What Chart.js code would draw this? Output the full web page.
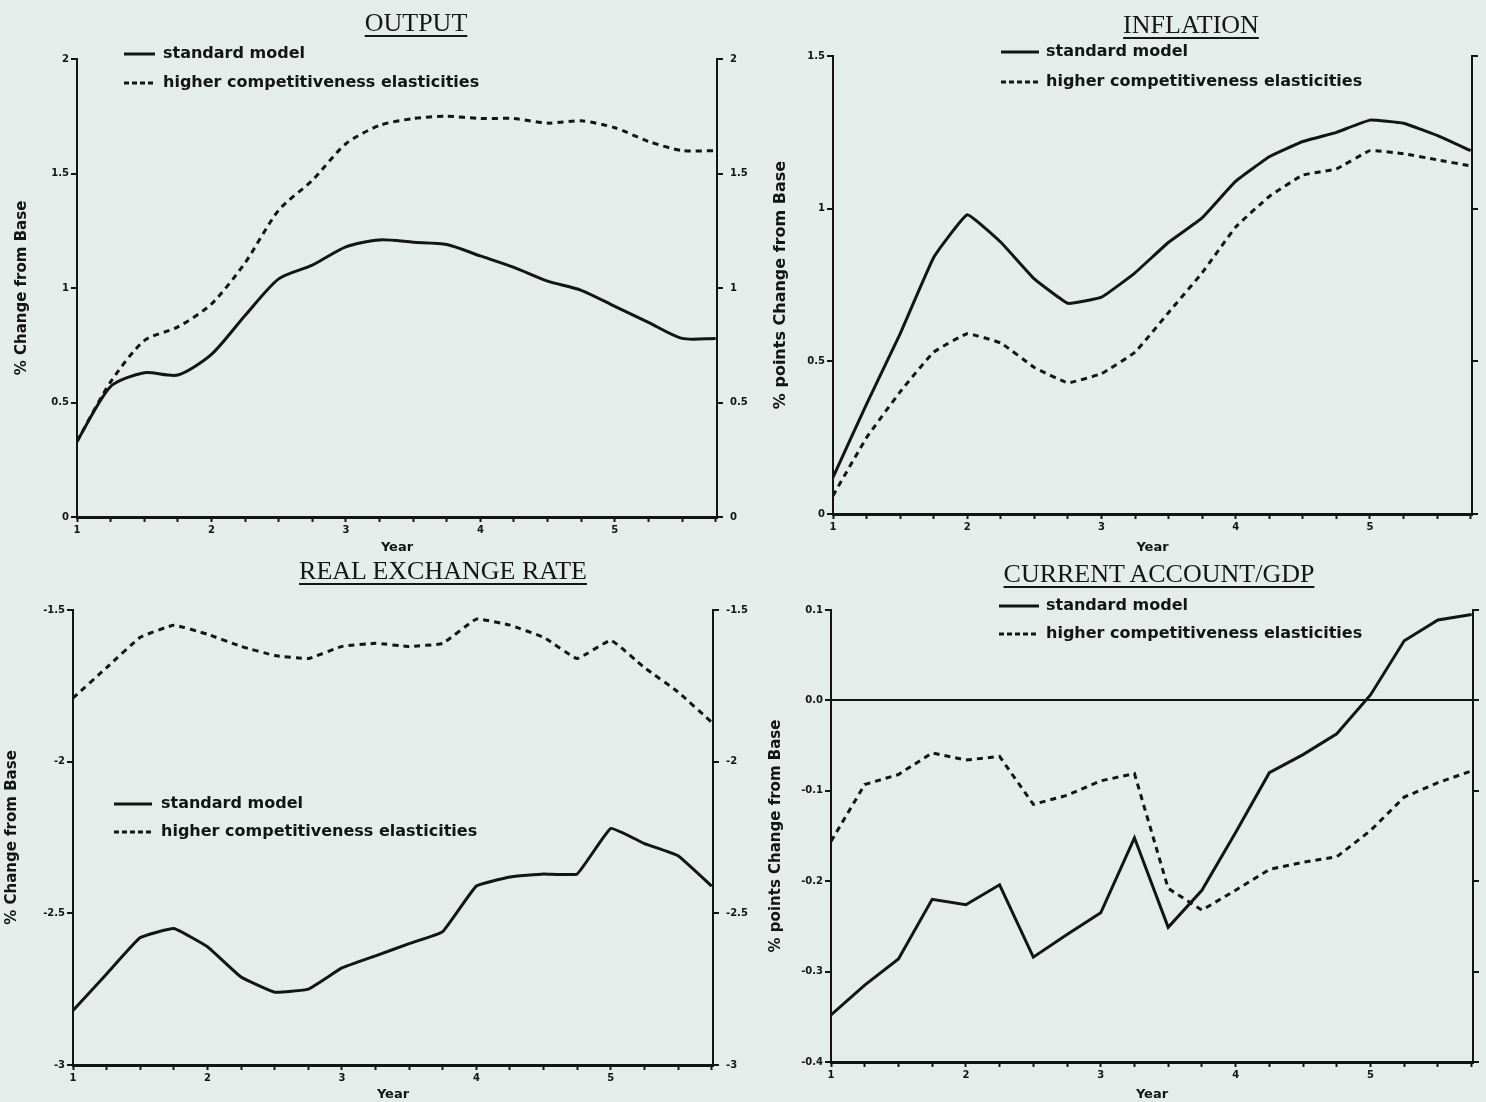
<!DOCTYPE html>
<html>
<head>
<meta charset="utf-8">
<title>Simulation results: standard model vs higher competitiveness elasticities</title>
<script src="https://cdn.jsdelivr.net/npm/chart.js@4.4.1/dist/chart.umd.min.js"></script>
<style>
  html, body { margin: 0; padding: 0; background: #e5edea; }
  #page { position: relative; width: 1486px; height: 1102px; overflow: hidden; background: #e5edea; }
  canvas { position: absolute; }
  .title { position: absolute; width: 440px; text-align: center; font: 26px "Liberation Serif", "DejaVu Serif", serif;
           line-height: 26px; color: #161616; white-space: nowrap; }
  .title span { text-decoration: underline; text-decoration-thickness: 2px; text-underline-offset: 4px; }
  .leg { position: absolute; font: bold 16px "DejaVu Sans", sans-serif; line-height: 20px; color: #141414; white-space: nowrap; }
  .sample { position: absolute; overflow: visible; }
</style>
</head>
<body>
<div id="page">
  <canvas id="cOutput" width="790" height="560" style="left:0px;top:0px"></canvas>
  <canvas id="cInflation" width="743" height="560" style="left:743px;top:0px"></canvas>
  <canvas id="cRex" width="790" height="542" style="left:0px;top:560px"></canvas>
  <canvas id="cCa" width="743" height="542" style="left:743px;top:560px"></canvas>
</div>
<script>
// Quarterly simulation horizon, years 1 to 5.75
const years = [1, 1.25, 1.5, 1.75, 2, 2.25, 2.5, 2.75, 3, 3.25, 3.5, 3.75, 4, 4.25, 4.5, 4.75, 5, 5.25, 5.5, 5.75];
const seriesNames = ['standard model', 'higher competitiveness elasticities'];
const xTitle = 'Year';

// OUTPUT (% change from base)
const outputStandard = [0.33, 0.57, 0.63, 0.62, 0.71, 0.88, 1.04, 1.10, 1.18, 1.21, 1.20, 1.19, 1.14, 1.09, 1.03, 0.99, 0.92, 0.85, 0.78, 0.78];
const outputHigher   = [0.33, 0.59, 0.77, 0.83, 0.93, 1.11, 1.34, 1.47, 1.63, 1.71, 1.74, 1.75, 1.74, 1.74, 1.72, 1.73, 1.70, 1.64, 1.60, 1.60];

// INFLATION (% points change from base)
const inflationStandard = [0.12, 0.36, 0.59, 0.84, 0.98, 0.89, 0.77, 0.69, 0.71, 0.79, 0.89, 0.97, 1.09, 1.17, 1.22, 1.25, 1.29, 1.28, 1.24, 1.19];
const inflationHigher   = [0.06, 0.25, 0.40, 0.53, 0.59, 0.56, 0.48, 0.43, 0.46, 0.53, 0.66, 0.79, 0.94, 1.04, 1.11, 1.13, 1.19, 1.18, 1.16, 1.14];

// REAL EXCHANGE RATE (% change from base)
const rexStandard = [-2.82, -2.70, -2.58, -2.55, -2.61, -2.71, -2.76, -2.75, -2.68, -2.64, -2.60, -2.56, -2.41, -2.38, -2.37, -2.37, -2.22, -2.27, -2.31, -2.41];
const rexHigher   = [-1.79, -1.69, -1.59, -1.55, -1.58, -1.62, -1.65, -1.66, -1.62, -1.61, -1.62, -1.61, -1.53, -1.55, -1.59, -1.66, -1.60, -1.69, -1.77, -1.87];

// CURRENT ACCOUNT/GDP (% points change from base)
const caStandard = [-0.348, -0.315, -0.286, -0.220, -0.226, -0.204, -0.284, -0.259, -0.235, -0.152, -0.251, -0.210, -0.146, -0.080, -0.060, -0.037, 0.006, 0.066, 0.089, 0.095];
const caHigher   = [-0.156, -0.093, -0.082, -0.058, -0.066, -0.062, -0.115, -0.105, -0.089, -0.081, -0.208, -0.232, -0.210, -0.187, -0.179, -0.173, -0.144, -0.107, -0.091, -0.078];

// Axis ticks and their printed labels
const outputTicks = [0, 0.5, 1, 1.5, 2];
const outputTickLabels = ['0', '0.5', '1', '1.5', '2'];
const inflationTicks = [0, 0.5, 1, 1.5];
const inflationTickLabels = ['0', '0.5', '1', '1.5'];
const rexTicks = [-3, -2.5, -2, -1.5];
const rexTickLabels = ['-3', '-2.5', '-2', '-1.5'];
const caTicks = [-0.4, -0.3, -0.2, -0.1, 0, 0.1];
const caTickLabels = ['-0.4', '-0.3', '-0.2', '-0.1', '0.0', '0.1'];

const INK = '#141414';
const tickFont = { family: 'DejaVu Sans', size: 10, weight: 'bold' };

function points(values) {
  return years.map((x, i) => ({ x: x, y: values[i] }));
}

function buildPanel(id, p) {
  const yScale = (position, showLabels) => ({
    type: 'linear',
    position: position,
    min: p.ticks[0],
    max: p.ticks[p.ticks.length - 1],
    afterBuildTicks: s => { s.ticks = p.ticks.map(v => ({ value: v })); },
    afterFit: s => { s.width = position === 'left' ? p.leftW : p.rightW; },
    border: { display: true, color: INK, width: 2 },
    grid: {
      display: true,
      drawOnChartArea: position === 'left' && !!p.zeroLine,
      color: ctx => (ctx.tick && ctx.tick.value === 0) ? INK : 'rgba(0,0,0,0)',
      lineWidth: 2,
      drawTicks: true, tickLength: 6, tickWidth: 2, tickColor: INK
    },
    ticks: {
      display: true, color: INK, font: tickFont, padding: position === 'left' ? 2 : 7,
      autoSkip: false,
      callback: v => showLabels ? (p.labels[p.ticks.indexOf(v)] ?? '') : ''
    },
    title: position === 'left' ? {
      display: true, text: p.yTitle, color: INK,
      font: { family: 'DejaVu Sans', size: p.yTitleSize, weight: 'bold' },
      padding: { top: p.yTitlePad, bottom: 0 }
    } : { display: false }
  });

  return new Chart(document.getElementById(id), {
    type: 'line',
    data: {
      datasets: [
        { label: seriesNames[0], data: points(p.standard), borderColor: INK, borderWidth: 3,
          pointRadius: 0, tension: p.tension, fill: false, yAxisID: 'y' },
        { label: seriesNames[1], data: points(p.higher), borderColor: INK, borderWidth: 3,
          borderDash: [6, 5], pointRadius: 0, tension: p.tension, fill: false, yAxisID: 'y' }
      ]
    },
    options: {
      responsive: false,
      animation: false,
      events: [],
      layout: { padding: { top: p.padTop, left: 0, right: 0, bottom: 0 } },
      plugins: { legend: { display: false }, tooltip: { enabled: false }, title: { display: false } },
      scales: {
        x: {
          type: 'linear',
          min: 1, max: 5.76,
          afterBuildTicks: s => { s.ticks = years.map(v => ({ value: v })); },
          afterFit: s => { s.height = p.xH; },
          border: { display: true, color: INK, width: 3 },
          grid: { display: true, drawOnChartArea: false, drawTicks: true, tickLength: 5, tickWidth: 2, tickColor: INK },
          ticks: {
            color: INK, font: tickFont, padding: 2, autoSkip: false, maxRotation: 0,
            callback: v => Number.isInteger(v) ? String(v) : ''
          },
          title: {
            display: true, text: xTitle, color: INK,
            font: { family: 'DejaVu Sans', size: 13, weight: 'bold' },
            padding: { top: 0, bottom: p.xTitlePad }
          }
        },
        y: yScale('left', true),
        y2: yScale('right', p.rightLabels)
      }
    }
  });
}

buildPanel('cOutput', {
  standard: outputStandard, higher: outputHigher, ticks: outputTicks, labels: outputTickLabels,
  yTitle: '% Change from Base', yTitleSize: 15, yTitlePad: 13,
  leftW: 77, rightW: 73, padTop: 59, xH: 43, xTitlePad: 5, rightLabels: true, tension: 0.25
});
buildPanel('cInflation', {
  standard: inflationStandard, higher: inflationHigher, ticks: inflationTicks, labels: inflationTickLabels,
  yTitle: '% points Change from Base', yTitleSize: 16, yTitlePad: 28,
  leftW: 90, rightW: 14, padTop: 56, xH: 46, xTitlePad: 5, rightLabels: false, tension: 0.1
});
buildPanel('cRex', {
  standard: rexStandard, higher: rexHigher, ticks: rexTicks, labels: rexTickLabels,
  yTitle: '% Change from Base', yTitleSize: 15, yTitlePad: 3,
  leftW: 73, rightW: 77, padTop: 50, xH: 37, xTitlePad: 0, rightLabels: true, tension: 0.1
});
buildPanel('cCa', {
  standard: caStandard, higher: caHigher, ticks: caTicks, labels: caTickLabels,
  yTitle: '% points Change from Base', yTitleSize: 15, yTitlePad: 24,
  leftW: 88, rightW: 13, padTop: 50, xH: 40, xTitlePad: 0, rightLabels: false, tension: 0, zeroLine: true
});

// Panel headings and keys
const page = document.getElementById('page');
const headings = [
  { text: 'OUTPUT', cx: 416, top: 10 },
  { text: 'INFLATION', cx: 1191, top: 12 },
  { text: 'REAL EXCHANGE RATE', cx: 443, top: 558 },
  { text: 'CURRENT ACCOUNT/GDP', cx: 1159, top: 561 }
];
headings.forEach(h => {
  const d = document.createElement('div');
  d.className = 'title';
  d.style.left = (h.cx - 220) + 'px';
  d.style.top = h.top + 'px';
  const s = document.createElement('span');
  s.textContent = h.text;
  d.appendChild(s);
  page.appendChild(d);
});

const keys = [
  { x1: 124, x2: 155, tx: 163, rows: [54, 83] },
  { x1: 1001, x2: 1039, tx: 1046, rows: [52, 82] },
  { x1: 114, x2: 152, tx: 161, rows: [804, 832] },
  { x1: 999, x2: 1039, tx: 1046, rows: [606, 634] }
];
const SVGNS = 'http://www.w3.org/2000/svg';
keys.forEach(k => {
  k.rows.forEach((y, i) => {
    const svg = document.createElementNS(SVGNS, 'svg');
    svg.setAttribute('class', 'sample');
    svg.setAttribute('width', k.x2 - k.x1);
    svg.setAttribute('height', 6);
    svg.style.left = k.x1 + 'px';
    svg.style.top = (y - 3) + 'px';
    const ln = document.createElementNS(SVGNS, 'line');
    ln.setAttribute('x1', 0); ln.setAttribute('y1', 3);
    ln.setAttribute('x2', k.x2 - k.x1); ln.setAttribute('y2', 3);
    ln.setAttribute('stroke', INK); ln.setAttribute('stroke-width', 3);
    if (i === 1) ln.setAttribute('stroke-dasharray', '5 3');
    svg.appendChild(ln);
    page.appendChild(svg);
    const t = document.createElement('div');
    t.className = 'leg';
    t.style.left = k.tx + 'px';
    t.style.top = (y - 11) + 'px';
    t.textContent = seriesNames[i];
    page.appendChild(t);
  });
});
</script>
</body>
</html>
